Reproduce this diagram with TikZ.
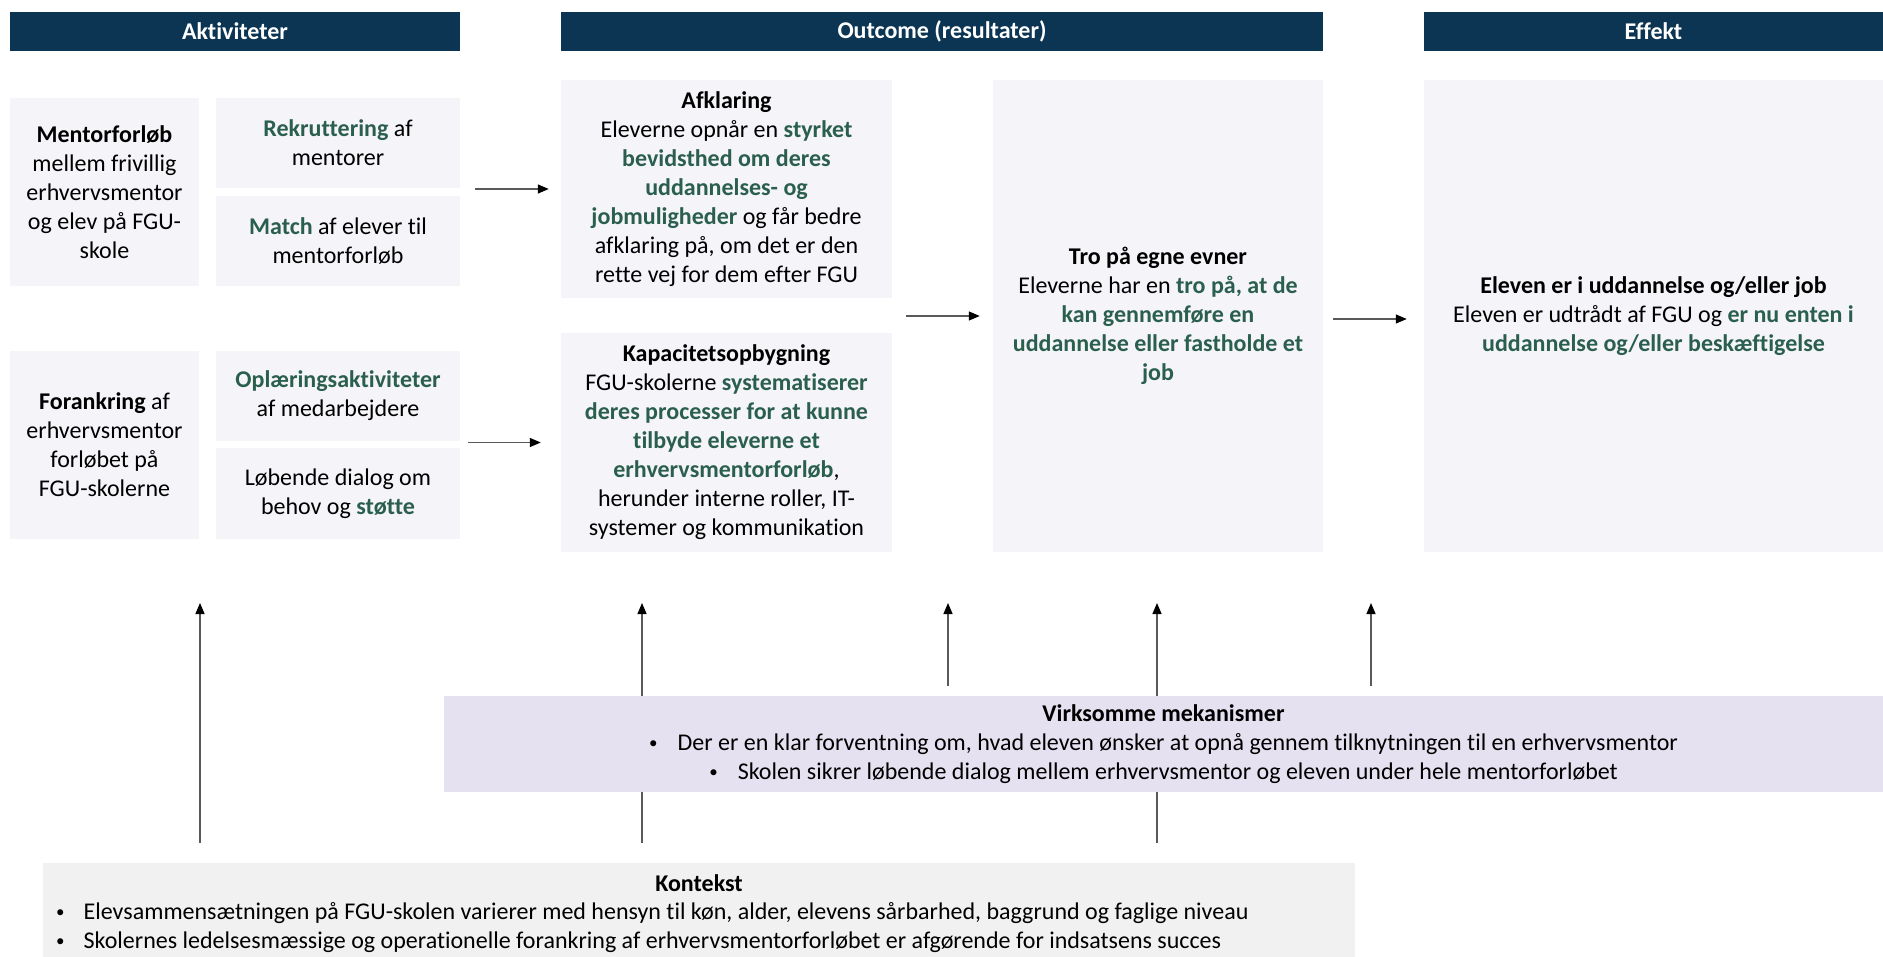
\documentclass[tikz,border=0pt]{standalone}
\usepackage{fontspec}
\setmainfont{Carlito}[Ligatures=NoCommon]
\usetikzlibrary{arrows.meta}
\definecolor{navy}{HTML}{0C3553}
\definecolor{boxc}{HTML}{F5F4F9}
\definecolor{grn}{HTML}{2B5F4D}
\definecolor{mekc}{HTML}{E6E1F0}
\definecolor{konc}{HTML}{F1F1F1}
\definecolor{linec}{HTML}{595959}
\newcommand{\bodyfs}{\fontsize{24pt}{29pt}\selectfont}
\newcommand{\gb}[1]{\textcolor{grn}{\textbf{#1}}}
\newcommand{\smbul}{\raisebox{2pt}{\fontsize{17pt}{29pt}\selectfont •}}
\begin{document}
\begin{tikzpicture}[x=1pt,y=-1pt,
  hdr/.style={fill=navy,text=white,font=\bodyfs\bfseries,minimum height=39pt,inner sep=0pt},
  bx/.style={fill=boxc,align=center,font=\bodyfs,inner sep=0pt},
  arr/.style={draw=linec,line width=1.3pt,-{Triangle[length=11pt,width=9pt,color=black]}}]
\useasboundingbox[fill=white] (0,0) rectangle (1883,957);

% headers
\node[hdr,minimum width=450pt] (hA) at (235,31.5) {Aktiviteter};
\node[hdr,minimum width=762pt] (hO) at (942,31.5) {Outcome (resultater)};
\node[hdr,minimum width=459pt] (hE) at (1653.5,31.5) {Effekt};

% activity boxes
\node[bx,minimum width=189pt,minimum height=188pt] (mentor) at (104.5,192)
  {\textbf{Mentorforløb}\\mellem frivillig\\erhvervsmentor\\og elev på FGU-\\skole};
\node[bx,minimum width=244pt,minimum height=90pt] (rek) at (338,143)
  {\gb{Rekruttering} af\\mentorer};
\node[bx,minimum width=244pt,minimum height=90pt] (match) at (338,241)
  {\gb{Match} af elever til\\mentorforløb};
\node[bx,minimum width=189pt,minimum height=188pt] (forank) at (104.5,445)
  {\textbf{Forankring} af\\erhvervsmentor\\forløbet på\\FGU-skolerne};
\node[bx,minimum width=244pt,minimum height=90pt] (opl) at (338,396)
  {\gb{Oplæringsaktiviteter}\\af medarbejdere};
\node[bx,minimum width=244pt,minimum height=91pt] (lob) at (338,493.5)
  {Løbende dialog om\\behov og \gb{støtte}};

% outcome boxes
\node[bx,minimum width=331pt,minimum height=218pt] (afk) at (726.5,189)
  {\textbf{Afklaring}\\Eleverne opnår en \gb{styrket}\\\gb{bevidsthed om deres}\\\gb{uddannelses- og}\\\gb{jobmuligheder} og får bedre\\afklaring på, om det er den\\rette vej for dem efter FGU};
\node[bx,minimum width=331pt,minimum height=219pt] (kap) at (726.5,442.5)
  {\textbf{Kapacitetsopbygning}\\FGU-skolerne \gb{systematiserer}\\\gb{deres processer for at kunne}\\\gb{tilbyde eleverne et}\\\gb{erhvervsmentorforløb},\\herunder interne roller, IT-\\systemer og kommunikation};
\node[bx,minimum width=330pt,minimum height=472pt] (tro) at (1158,316)
  {\textbf{Tro på egne evner}\\Eleverne har en \gb{tro på, at de}\\\gb{kan gennemføre en}\\\gb{uddannelse eller fastholde et}\\\gb{job}};
\node[bx,minimum width=459pt,minimum height=472pt] (eff) at (1653.5,316)
  {\textbf{Eleven er i uddannelse og/eller job}\\Eleven er udtrådt af FGU og \gb{er nu enten i}\\\gb{uddannelse og/eller beskæftigelse}};

% horizontal arrows
\draw[arr] ([xshift=15pt]rek.south east |- afk.west) -- ([xshift=-12pt]afk.west);
\draw[arr] ([xshift=8pt]opl.south east |- kap.west) -- ([xshift=-20pt]kap.west);
\draw[arr] ([xshift=14pt]afk.east |- tro.west) -- ([xshift=-13pt]tro.west);
\draw[arr] ([xshift=10pt,yshift=-3pt]tro.east) -- ([xshift=-17pt,yshift=-3pt]eff.west);

% context box
\node[fill=konc,minimum width=1312pt,minimum height=94pt,inner sep=0pt] (kon) at (699,910) {};
\node[font=\bodyfs,inner sep=0pt] (konT) at (699,883) {\textbf{Kontekst}};
\node[font=\bodyfs,inner sep=0pt,align=left,anchor=west] (konB) at (56,927.5)
  {\smbul\hspace{19pt}Elevsammensætningen på FGU-skolen varierer med hensyn til køn, alder, elevens sårbarhed, baggrund og faglige niveau\\
   \smbul\hspace{19pt}Skolernes ledelsesmæssige og operationelle forankring af erhvervsmentorforløbet er afgørende for indsatsens succes};

% vertical arrows
\coordinate (v1) at (200,603);
\coordinate (v2) at (642,603);
\coordinate (v3) at (948,603);
\coordinate (v4) at (1157,603);
\coordinate (v5) at (1371,603);
\draw[arr] ([yshift=20pt]kon.north -| v1) -- (v1);
\draw[arr] ([yshift=20pt]kon.north -| v2) -- (v2);
\draw[arr] ([yshift=20pt]kon.north -| v4) -- (v4);

% mechanisms box
\node[fill=mekc,minimum width=1439pt,minimum height=96pt,inner sep=0pt,align=center,font=\bodyfs] (mek) at (1163.5,744)
  {\textbf{Virksomme mekanismer}\\\smbul\hspace{20pt}Der er en klar forventning om, hvad eleven ønsker at opnå gennem tilknytningen til en erhvervsmentor\\\smbul\hspace{20pt}Skolen sikrer løbende dialog mellem erhvervsmentor og eleven under hele mentorforløbet};
\draw[arr] ([yshift=10pt]mek.north -| v3) -- (v3);
\draw[arr] ([yshift=10pt]mek.north -| v5) -- (v5);
\end{tikzpicture}
\end{document}
